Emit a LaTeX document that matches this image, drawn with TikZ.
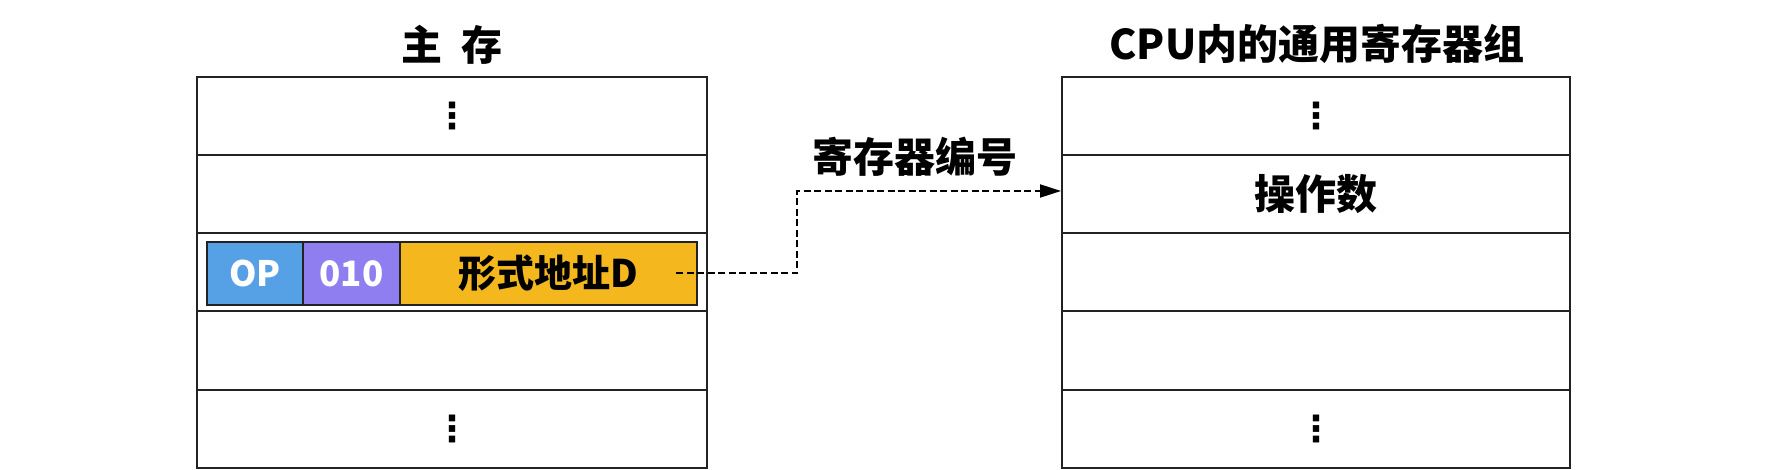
\documentclass[tikz,border=0pt]{standalone}
\usepackage{fontspec}
\setmainfont{Noto Sans CJK SC}
\newfontfamily\dotsfont{DejaVu Sans}
\usetikzlibrary{arrows.meta,positioning,calc}
\definecolor{opblue}{HTML}{56A0E6}
\definecolor{modepurple}{HTML}{8E7EF0}
\definecolor{addrorange}{HTML}{F4B81E}
\definecolor{linegray}{HTML}{222222}
\newcommand{\vdotsmark}{{\dotsfont\bfseries\fontsize{36}{36}\selectfont ⋮}}
\begin{document}
\begin{tikzpicture}[x=1pt,y=-1pt,
  cellrow/.style={draw=linegray,line width=2pt,minimum width=510pt,minimum height=78pt,inner sep=0pt,anchor=center},
  field/.style={draw=linegray,line width=2pt,minimum height=63pt,inner sep=0pt,font=\fontsize{35}{35}\selectfont\bfseries},
  title/.style={font=\fontsize{41}{41}\selectfont\bfseries,inner sep=0pt},
  conn/.style={draw=black,line width=2pt,dash pattern=on 7pt off 3.5pt,-{Triangle[length=21pt,width=13pt]}}]
\useasboundingbox (0,0) rectangle (1773,470);
% titles
\node[title] (t1) at (452,45) {主\hspace{0.45em}存};
\node[title] (t2) at (1317,44) {CPU内的通用寄存器组};
% main memory
\node[cellrow] (m1) at (452,116) {\vdotsmark};
\node[cellrow] (m2) at (452,194) {};
\node[cellrow] (m3) at (452,272) {};
\node[cellrow] (m4) at (452,350.5) {};
\node[cellrow] (m5) at (452,429) {\vdotsmark};
% instruction
\node[field,fill=opblue,text=white,minimum width=96pt] (op) at (255,273.5) {OP};
\node[field,fill=modepurple,text=white,minimum width=97pt] (mode) at (351.5,273.5) {010};
\node[field,fill=addrorange,text=black,minimum width=297pt,font=\fontsize{38}{38}\selectfont\bfseries] (addr) at (548.5,273.5) {形式地址D};
% registers
\node[cellrow,minimum width=508pt] (r1) at (1316,116) {\vdotsmark};
\node[cellrow,minimum width=508pt,font=\fontsize{41}{41}\selectfont\bfseries] (r2) at (1316,194) {操作数};
\node[cellrow,minimum width=508pt] (r3) at (1316,272) {};
\node[cellrow,minimum width=508pt] (r4) at (1316,350.5) {};
\node[cellrow,minimum width=508pt] (r5) at (1316,429) {\vdotsmark};
% connector
\coordinate (s) at ($(addr.east)+(-22,0)$);
\coordinate (bend) at (797,273.5);
\draw[conn] (s) -- (bend) |- ($(r2.west)+(0,-3)$);
\node[title] (lab) at (915,157) {寄存器编号};
\end{tikzpicture}
\end{document}
